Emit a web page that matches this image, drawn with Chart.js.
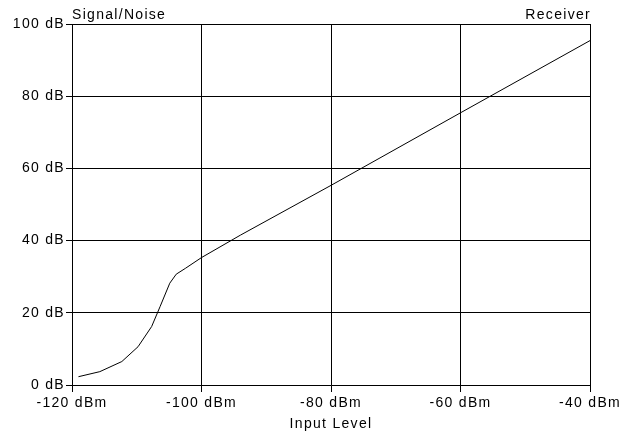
<!DOCTYPE html>
<html>
<head>
<meta charset="utf-8">
<script src="https://cdn.jsdelivr.net/npm/chart.js@4"></script>
<style>
body{margin:0;background:#fff;}
</style>
</head>
<body>
<canvas id="snChart" width="632" height="433"></canvas>
<script>
// input level (dBm) and signal/noise (dB)
const inputLevel = [-119, -115.7, -112.3, -109.8, -107.7, -106.4, -104.9, -103.9, -102.5, -100, -94, -80, -60, -40];
const snr = [2.3, 3.7, 6.5, 10.6, 16.2, 21.7, 28.2, 30.7, 32.3, 35.3, 41.5, 55.3, 75.4, 95.4];
const xTicks = [-120, -100, -80, -60, -40];
const yTicks = [0, 20, 40, 60, 80, 100];

const FONT = 'Liberation Sans, Arial, sans-serif';
const SPACING = '1.3px';

// the old windows font is wider than arial, so open up the letters a bit
const spacing = {
  id: 'spacing',
  beforeLayout(chart){ chart.ctx.letterSpacing = SPACING; },
  beforeDraw(chart){ chart.ctx.letterSpacing = SPACING; }
};

const cornerText = {
  id: 'cornerText',
  afterDraw(chart){
    const ctx = chart.ctx;
    const a = chart.chartArea;
    ctx.save();
    ctx.letterSpacing = SPACING;
    ctx.fillStyle = '#000';
    ctx.font = '14px ' + FONT;
    ctx.textBaseline = 'alphabetic';
    ctx.textAlign = 'left';
    ctx.fillText('Signal/Noise', a.left, 19);
    ctx.textAlign = 'right';
    ctx.fillText('Receiver', a.right + 1, 19);
    ctx.restore();
  }
};

new Chart(document.getElementById('snChart'), {
  type: 'line',
  data: {
    datasets: [{
      data: inputLevel.map((x, i) => ({x: x, y: snr[i]})),
      borderColor: '#000',
      borderWidth: 1,
      pointRadius: 0,
      fill: false,
      tension: 0
    }]
  },
  options: {
    responsive: false,
    animation: false,
    layout: {padding: {top: 24, right: 42, left: 0, bottom: 0}},
    plugins: {legend: {display: false}, tooltip: {enabled: false}},
    scales: {
      x: {
        type: 'linear',
        min: xTicks[0],
        max: xTicks[xTicks.length - 1],
        afterBuildTicks: s => { s.ticks = xTicks.map(v => ({value: v})); },
        afterFit: s => { s.height = 48; },
        grid: {color: '#000', tickLength: 7, lineWidth: 1},
        border: {color: '#000'},
        ticks: {
          color: '#000', font: {size: 14, family: FONT}, padding: 3, maxRotation: 0,
          callback: v => v + ' dBm'
        },
        title: {display: true, text: 'Input Level', color: '#000', font: {size: 14, family: FONT}, padding: 0}
      },
      y: {
        min: yTicks[0],
        max: yTicks[yTicks.length - 1],
        afterBuildTicks: s => { s.ticks = yTicks.map(v => ({value: v})); },
        afterFit: s => { s.width = 72; },
        grid: {color: '#000', tickLength: 6, lineWidth: 1},
        border: {color: '#000'},
        ticks: {
          color: '#000', font: {size: 14, family: FONT}, padding: 1,
          callback: v => v + ' dB'
        }
      }
    }
  },
  plugins: [spacing, cornerText]
});
</script>
</body>
</html>
